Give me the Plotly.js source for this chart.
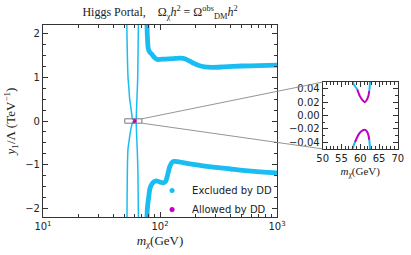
<!DOCTYPE html>
<html>
<head>
<meta charset="utf-8">
<script src="https://cdn.plot.ly/plotly-3.0.1.min.js"></script>
<style>html,body{margin:0;padding:0;background:#fff;}#chart{width:411px;height:255px;}</style>
</head>
<body>
<div id="chart"></div>
<script>
// ---- data (m_chi in GeV, y1/Lambda in TeV^-1) ----
// upper resonance "U" (y > 0)
const upLeftM  = [52.0, 52.5, 53.3, 54.2, 55.1, 56.5, 57.4, 58.1, 59.2];
const upLeftY  = [2.25, 1.6, 1.0, 0.75, 0.5, 0.29, 0.15, 0.049, 0.039];
const upMagM   = [59.2, 59.9, 60.6, 61.2, 61.8, 62.2, 62.4];
const upMagY   = [0.039, 0.029, 0.023, 0.020, 0.024, 0.030, 0.037];
const upRightM = [62.4, 62.6, 62.8, 63.2, 63.7, 64.5, 65.4];
const upRightY = [0.037, 0.049, 0.15, 0.35, 0.6, 1.0, 2.25];
// lower resonance "U" (y < 0)
const loLeftM  = [52.2, 52.4, 52.7, 53.3, 54.5, 55.5, 57.0, 58.0, 58.6];
const loLeftY  = [-2.25, -1.6, -1.0, -0.63, -0.45, -0.29, -0.13, -0.049, -0.040];
const loMagM   = [58.6, 59.5, 60.2, 61.1, 61.8, 62.2, 62.4];
const loMagY   = [-0.040, -0.029, -0.024, -0.0214, -0.024, -0.030, -0.0365];
const loRightM = [62.4, 62.6, 62.8, 63.3, 64.0, 64.8, 65.4];
const loRightY = [-0.0365, -0.049, -0.15, -0.4, -0.7, -1.2, -2.25];
// heavy branches
const hiM = [77.3, 77.8, 78.5, 79.5, 82, 85, 90, 95, 110, 130, 150, 165, 180, 195, 215, 240, 280, 350, 500, 700, 1000];
const hiY = [2.25, 2.0, 1.8, 1.65, 1.57, 1.53, 1.45, 1.41, 1.42, 1.43, 1.44, 1.42, 1.37, 1.32, 1.27, 1.24, 1.23, 1.24, 1.26, 1.27, 1.28];
const lowM = [77.3, 78, 80, 82, 85, 88, 93, 100, 107, 112, 117, 121, 125, 130, 140, 170, 250, 400, 600, 1000];
const lowY = [-2.25, -2.0, -1.75, -1.55, -1.45, -1.40, -1.37, -1.40, -1.42, -1.38, -1.2, -1.05, -0.97, -0.93, -0.93, -0.97, -1.04, -1.10, -1.15, -1.19];
// ticks / labels
const xMajor = [10, 100, 1000];
const xMajorText = ['10<sup>1</sup>', '10<sup>2</sup>', '10<sup>3</sup>'];
const xMinor = [20,30,40,50,60,70,80,90,200,300,400,500,600,700,800,900];
const insetYTicks = [-0.04, -0.02, 0, 0.02, 0.04];
const legendNames = ['Excluded by DD', 'Allowed by DD'];

const mainXRange = [1, 3];
const mainYRange = [-2.2, 2.2];
const insetXRange = [50, 70];
const insetYRange = [-0.05, 0.05];

const CYAN = '#1ABDF2';
const MAG = '#C000C0';
const AX = '#333';

const mainDX = [0.1046, 0.674], mainDY = [0.149, 0.902];
const insDX = [0.785, 0.968], insDY = [0.416, 0.678];

function thin(x, y, color, xa, ya, w) {
  return {x: x, y: y, xaxis: xa, yaxis: ya, type: 'scatter', mode: 'lines',
          line: {color: color, width: w, shape: 'spline', smoothing: 0.6}, showlegend: false, hoverinfo: 'skip'};
}
const traces = [];
[['x','y',1.5],['x2','y2',2.0]].forEach(([xa, ya, w]) => {
  traces.push(thin(upLeftM, upLeftY, CYAN, xa, ya, w));
  traces.push(thin(upRightM, upRightY, CYAN, xa, ya, w));
  traces.push(thin(loLeftM, loLeftY, CYAN, xa, ya, w));
  traces.push(thin(loRightM, loRightY, CYAN, xa, ya, w));
  traces.push(thin(upMagM, upMagY, MAG, xa, ya, xa === 'x' ? 2.6 : w));
  traces.push(thin(loMagM, loMagY, MAG, xa, ya, xa === 'x' ? 2.6 : w));
});
traces.push(thin(hiM, hiY, CYAN, 'x', 'y', 4.8));
traces.push(thin(lowM, lowY, CYAN, 'x', 'y', 4.8));
// legend entries
traces.push({x: [null], y: [null], type: 'scatter', mode: 'markers', name: legendNames[0],
             marker: {color: CYAN, size: 5}, xaxis: 'x', yaxis: 'y'});
traces.push({x: [null], y: [null], type: 'scatter', mode: 'markers', name: legendNames[1],
             marker: {color: MAG, size: 5}, xaxis: 'x', yaxis: 'y'});

// paper coordinates of the zoom box corners
function mainPx(m) { return mainDX[0] + (Math.log10(m) - mainXRange[0]) / (mainXRange[1] - mainXRange[0]) * (mainDX[1] - mainDX[0]); }
function mainPy(v) { return mainDY[0] + (v - mainYRange[0]) / (mainYRange[1] - mainYRange[0]) * (mainDY[1] - mainDY[0]); }

const tickFont = {family: 'DejaVu Sans', size: 10, color: '#222'};
const serif = {family: 'Liberation Serif', size: 13, color: '#222'};
const axBase = {showline: true, mirror: 'ticks', linecolor: AX, linewidth: 1, ticks: 'inside', ticklen: 5,
                tickcolor: AX, showgrid: false, zeroline: false, tickfont: tickFont};

const layout = {
  width: 411, height: 255, margin: {l: 0, r: 0, t: 0, b: 0},
  paper_bgcolor: '#fff', plot_bgcolor: 'rgba(0,0,0,0)',
  title: {text: 'Higgs Portal,\u00A0\u00A0\u00A0\u00A0Ω<sub>χ</sub><i>h</i><sup>2</sup> = Ω<sup>obs</sup><sub>DM</sub><i>h</i><sup>2</sup>',
          font: {family: 'Liberation Serif', size: 12, color: '#222'}, x: 160/411, xanchor: 'center', xref: 'paper',
          y: 1 - 12/255, yanchor: 'middle', yref: 'paper'},
  xaxis: Object.assign({}, axBase, {type: 'log', range: mainXRange, domain: mainDX, anchor: 'y',
          tickmode: 'array', tickvals: xMajor, ticktext: xMajorText,
          minor: {tickmode: 'array', tickvals: xMinor, ticks: 'inside', ticklen: 3, tickcolor: AX},
          title: {text: '<i>m</i><sub>χ</sub>(GeV)', font: serif, standoff: 4}}),
  yaxis: Object.assign({}, axBase, {range: mainYRange, domain: mainDY, anchor: 'x', dtick: 1,
          minor: {dtick: 0.25, ticks: 'inside', ticklen: 3, tickcolor: AX},
          title: {text: '<i>y</i><sub>1</sub>/Λ (TeV<sup>−1</sup>)', font: serif, standoff: 6}}),
  xaxis2: Object.assign({}, axBase, {range: insetXRange, domain: insDX, anchor: 'y2', dtick: 5,
          minor: {dtick: 1, ticks: 'inside', ticklen: 2.5, tickcolor: AX},
          title: {text: '<i>m</i><sub>χ</sub>(GeV)', font: {family: 'Liberation Serif', size: 11, color: '#222'}, standoff: 4}}),
  yaxis2: Object.assign({}, axBase, {range: insetYRange, domain: insDY, anchor: 'x2', tickmode: 'array',
          tickvals: insetYTicks, tickformat: '.2f',
          minor: {dtick: 0.01, ticks: 'inside', ticklen: 2.5, tickcolor: AX}}),
  legend: {x: 0.37, y: 0.31, xanchor: 'left', yanchor: 'top', bgcolor: 'rgba(0,0,0,0)',
           font: {family: 'DejaVu Sans', size: 10, color: '#222'}, itemwidth: 30, tracegroupgap: 0},
  shapes: [
    {type: 'rect', xref: 'x', yref: 'y', x0: insetXRange[0], x1: insetXRange[1], y0: insetYRange[0], y1: insetYRange[1],
     line: {color: '#777', width: 1}, fillcolor: 'rgba(0,0,0,0)'},
    {type: 'line', xref: 'paper', yref: 'paper', x0: mainPx(insetXRange[1]), y0: mainPy(insetYRange[1]),
     x1: insDX[0], y1: insDY[1], line: {color: '#888', width: 0.9}},
    {type: 'line', xref: 'paper', yref: 'paper', x0: mainPx(insetXRange[1]), y0: mainPy(insetYRange[0]),
     x1: insDX[0], y1: insDY[0], line: {color: '#888', width: 0.9}}
  ]
};

Plotly.newPlot('chart', traces, layout, {displayModeBar: false, staticPlot: true});
</script>
</body>
</html>
